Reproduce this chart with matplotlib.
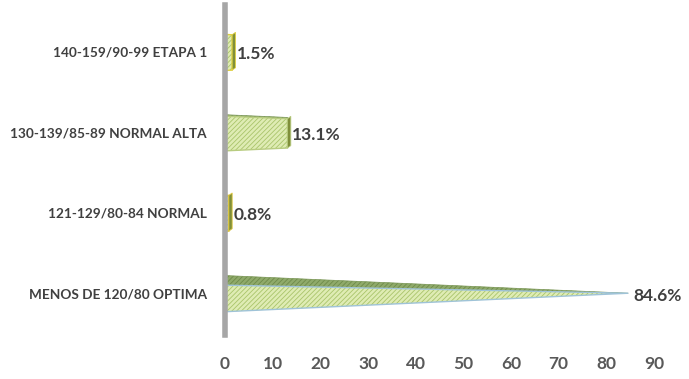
import matplotlib
matplotlib.use("Agg")
import matplotlib.pyplot as plt
from matplotlib.patches import Polygon

categories = [
    "MENOS DE 120/80 OPTIMA",
    "121-129/80-84 NORMAL",
    "130-139/85-89 NORMAL ALTA",
    "140-159/90-99 ETAPA 1",
]
percentages = [84.6, 0.8, 13.1, 1.5]
edge_colors = ["#9fc3d8", "#e0c840", "#b8cc80", "#e0d040"]

plt.rcParams["font.family"] = ["Lato", "DejaVu Sans"]
plt.rcParams["hatch.linewidth"] = 0.6

fig = plt.figure(figsize=(6.89, 3.79), dpi=100)
ax = fig.add_axes([0.3266, 0.116, 0.6226, 0.871])
ax.set_xlim(0, 90)
ax.set_ylim(-0.52, 3.585)

vmax = max(percentages)
lo, hi = -0.23, 0.22  # overall extent of a bar around its category


def shaded(points, face, hatch_col, edge, lw):
    ax.add_patch(Polygon(points, closed=True, facecolor=face, edgecolor="none"))
    ax.add_patch(Polygon(points, closed=True, facecolor="none", edgecolor=hatch_col,
                         hatch="///////", linewidth=0))
    ax.add_patch(Polygon(points, closed=True, facecolor="none", edgecolor=edge, linewidth=lw))


for i, (value, ec) in enumerate(zip(percentages, edge_colors)):
    f = value / vmax
    mid = hi - 0.12 * f  # visible top face grows with bar length

    def at(off):
        return i + off * (1 - f)

    if f > 0.05:
        top = [(0, i + mid), (0, i + hi), (value, at(hi)), (value, at(mid))]
        shaded(top, "#8faa6a", "#6e8a4a", "#7a9656", 0.5)
    front = [(0, i + lo), (0, i + mid), (value, at(mid)), (value, at(lo))]
    shaded(front, "#dfecb4", "#a9c46a", ec, 1.0)
    if f < 0.9:
        w = 0.7
        side = [(value, at(lo)), (value, at(mid)), (value + w, at(mid) + 0.03), (value + w, at(lo) + 0.03)]
        ax.add_patch(Polygon(side, closed=True, facecolor="#7f8f3a", edgecolor=ec, linewidth=0.6))
    ax.text(value + 1.0, i - 0.03, f"{value:.1f}%", va="center", ha="left",
            fontsize=12.5, fontweight="bold", color="#404040")

for s in ["top", "right", "bottom"]:
    ax.spines[s].set_visible(False)
ax.spines["left"].set_color("#a6a6a6")
ax.spines["left"].set_linewidth(4)

ax.set_yticks(range(len(categories)))
ax.set_yticklabels(categories, fontsize=9.8, fontweight="bold", color="#404040")
ax.set_xticks(range(0, 91, 10))
ax.tick_params(axis="both", length=0)
ax.tick_params(axis="y", pad=13)
ax.tick_params(axis="x", pad=15, labelsize=12.5, labelcolor="#595959")
for lab in ax.get_xticklabels():
    lab.set_fontweight("bold")

fig.savefig("out.png", dpi=100)
